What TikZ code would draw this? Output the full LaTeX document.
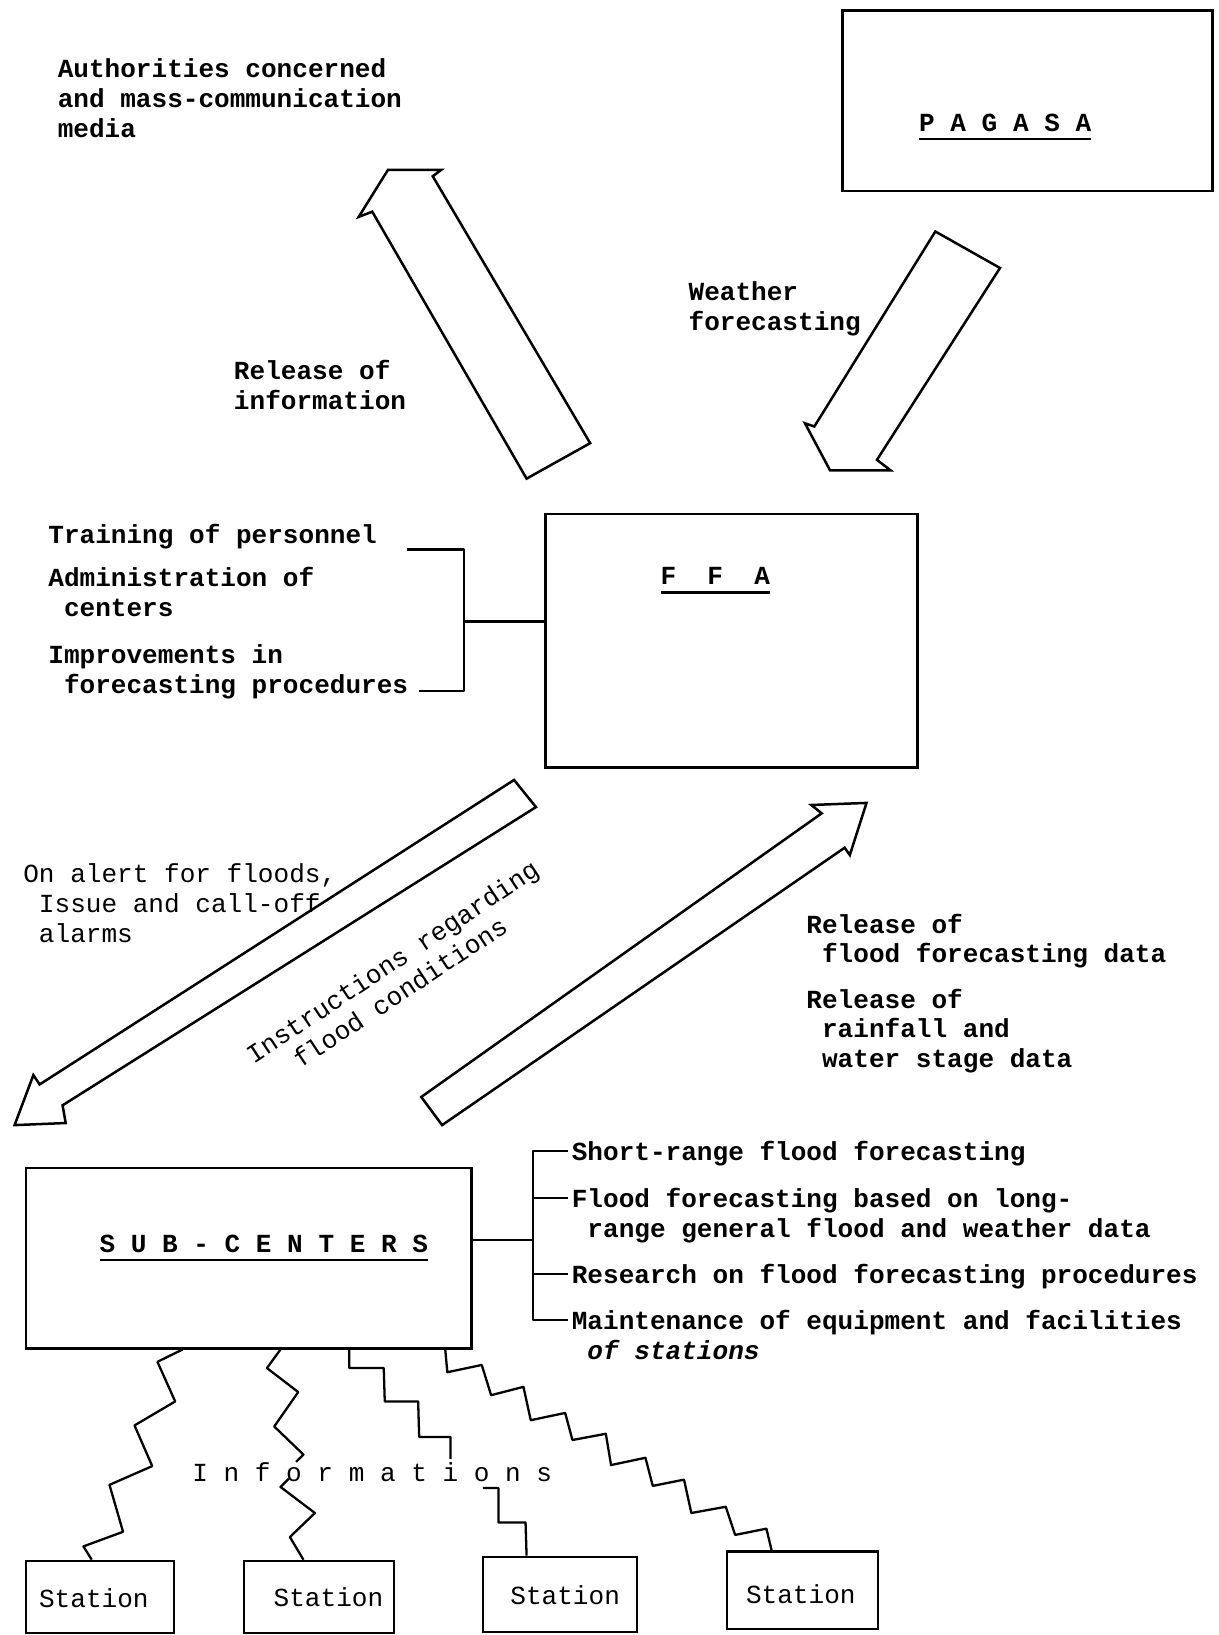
\documentclass[tikz,border=0pt]{standalone}
\usepackage{fontspec}
\setmonofont{Liberation Mono}
\usetikzlibrary{fit}
\newcommand{\tw}{\fontsize{12.5pt}{14.25pt}\selectfont\ttfamily}
\newcommand{\ind}{\hspace*{0.6em}}
\newcommand{\titleul}[1]{\vtop{\hbox{#1}\kern3pt\hrule height 1.1pt}}
\tikzset{
  box/.style={draw,line width=1.2pt,inner sep=0pt},
  note/.style={font=\tw\bfseries,align=left,inner sep=0pt,anchor=north west},
  plain/.style={font=\tw,align=left,inner sep=0pt,anchor=north west},
  title/.style={font=\tw\bfseries,inner sep=0pt,anchor=base},
  bigarrow/.style={line width=1.2pt,line join=miter},
  wire/.style={line width=1.1pt,line join=round}
}

\begin{document}
\begin{tikzpicture}[x=0.5pt,y=-0.5pt]
\useasboundingbox (0,0) rectangle (1169,1568);

% offices
\node[box,fit={(808,10) (1163,183)}] (pagasa) {};
\node[box,fit={(523,493) (880,736)}] (ffa) {};
\node[box,fit={(25,1120) (452,1293)}] (subc) {};
\node[title] (pagasat) at (964,126) {\titleul{P A G A S A}};
\node[title] (ffat) at (686,561) {\titleul{F\ \ F\ \ A}};
\node[title] (subct) at (253,1201) {\titleul{S U B - C E N T E R S}};

% stations
\node[box,fit={(25,1497) (167,1566)}] (st1) {};
\node[box,fit={(234,1497) (378,1566)}] (st2) {};
\node[box,fit={(463,1493) (611,1565)}] (st3) {};
\node[box,fit={(697,1488) (842,1562)}] (st4) {};
\node[plain,anchor=center] (st1t) at (90,1533) {Station};
\node[plain,anchor=center] (st2t) at (315,1532) {Station};
\node[plain,anchor=center] (st3t) at (542,1530) {Station};
\node[plain,anchor=center] (st4t) at (768,1529) {Station};

% hollow arrows
\draw[bigarrow] (372,163) -- (423,163) -- (415,169) -- (566,425) -- (505,459)
  -- (357,203) -- (344,208) -- cycle;
\draw[bigarrow] (897,222) -- (959,257) -- (841,441) -- (854,451) -- (796,451)
  -- (772,406) -- (781,409) -- cycle;
\draw[bigarrow] (493,748) -- (514,774) -- (60,1060) -- (63,1077) -- (14,1079)
  -- (32,1031) -- (38,1040) -- cycle;
\draw[bigarrow] (404,1052) -- (788,780) -- (778,772) -- (831,770) -- (815,820)
  -- (810,813) -- (424,1079) -- cycle;

% labels of the arrows
\node[note] (auth) at (55,56) {Authorities concerned\\and mass-communication\\media};
\node[note] (wthr) at (660,270) {Weather\\forecasting};
\node[note] (relinf) at (224,345) {Release of\\information};
\node[plain] (alert) at (22,828) {On alert for floods,\\\ind Issue and call-off\\\ind alarms};
\node[plain,rotate=33.5,anchor=center] (instr) at (384,934)
  {Instructions regarding\\\hspace*{1.4em}flood conditions};
\node[note] (reldat) at (773,876) {Release of\\\ind flood forecasting data};
\node[note] (relrain) at (773,948) {Release of\\\ind rainfall and\\\ind water stage data};

% tasks of the FFA
\node[note] (train) at (46,502) {Training of personnel};
\node[note] (admin) at (46,544) {Administration of\\\ind centers};
\node[note] (impr) at (46,618) {Improvements in\\\ind forecasting procedures};
\coordinate (brka) at (445,596);
\draw[wire] (390,527) -- (445,527) -- (445,663) -- (402,663);
\draw[wire] (brka) -- (brka -| ffa.west);

% tasks of the sub-centers
\node[note] (task1) at (548,1094) {Short-range flood forecasting};
\node[note] (task2) at (548,1139) {Flood forecasting based on long-\\\ind range general flood and weather data};
\node[note] (task3) at (548,1212) {Research on flood forecasting procedures};
\node[note] (task4) at (548,1256) {Maintenance of equipment and facilities\\\ind \textit{of stations}};
\coordinate (brkb) at (511,1189);
\draw[wire] (brkb -| subc.east) -- (brkb);
\draw[wire] (545,1104) -- (511,1104) -- (511,1266) -- (545,1266);
\draw[wire] (511,1149) -- (545,1149);
\draw[wire] (511,1222) -- (545,1222);

% informations to the stations
\node[plain,anchor=base] (info) at (357,1421) {I n f o r m a t i o n s};
\draw[wire] (175,0 |- subc.south) -- (151,1306) -- (168,1344) -- (129,1367) -- (146,1406)
  -- (105,1424) -- (118,1469) -- (80,1483) -- (88,0 |- st1.north);
\draw[wire] (269,0 |- subc.south) -- (256,1312) -- (286,1335) -- (263,1368) -- (291,1395)
  -- (284,1402);
\draw[wire] (277,1418) -- (269,1426) -- (302,1451) -- (278,1474) -- (291,0 |- st2.north);
\draw[wire] (335,0 |- subc.south) -- (335,1312) -- (368,1312) -- (369,1344) -- (401,1344)
  -- (402,1378) -- (432,1378) -- (432,1399);
\draw[wire] (463,1427) -- (478,1427) -- (478,1460) -- (504,1460) -- (505,0 |- st3.north);
\draw[wire] (427,0 |- subc.south) -- (429,1316) -- (462,1309) -- (471,1338) -- (502,1330)
  -- (509,1362) -- (542,1355) -- (549,1381) -- (581,1375) -- (586,1405) -- (619,1398)
  -- (626,1425) -- (656,1419) -- (663,1451) -- (696,1445) -- (705,1472) -- (735,1466)
  -- (740,0 |- st4.north);
\end{tikzpicture}
\end{document}
